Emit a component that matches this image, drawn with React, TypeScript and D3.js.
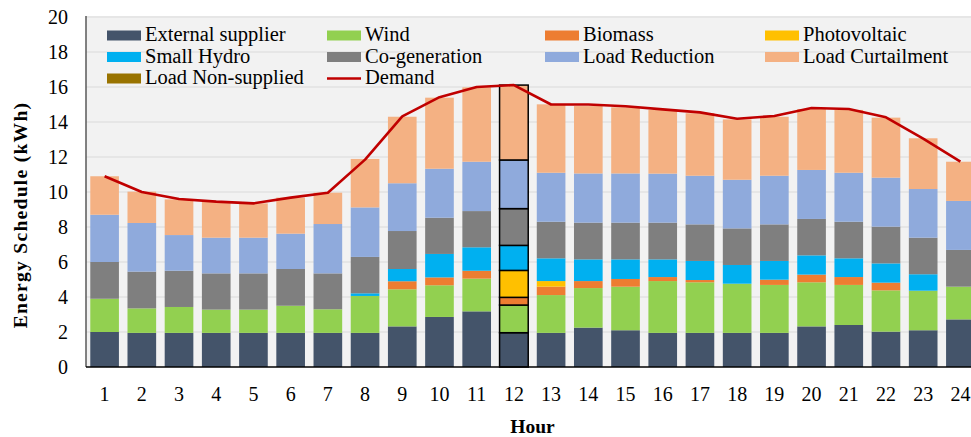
import React from "react";
import * as d3 from "d3";

const hours = ["1","2","3","4","5","6","7","8","9","10","11","12","13","14","15","16","17","18","19","20","21","22","23","24"];
const externalSupplier = [2.0,1.95,1.95,1.95,1.95,1.95,1.95,1.95,2.32,2.86,3.18,1.96,1.95,2.25,2.1,1.95,1.95,1.95,1.95,2.32,2.4,2.02,2.1,2.72];
const wind = [1.9,1.4,1.48,1.33,1.33,1.55,1.35,2.11,2.12,1.81,1.87,1.58,2.16,2.26,2.49,2.96,2.89,2.81,2.74,2.52,2.29,2.36,2.26,1.87];
const biomass = [0,0,0,0,0,0,0,0,0.46,0.45,0.45,0.44,0.48,0.4,0.44,0.23,0.13,0,0.3,0.44,0.45,0.44,0,0];
const photovoltaic = [0,0,0,0,0,0,0,0,0,0,0,1.54,0.32,0,0,0,0,0,0,0,0,0,0,0];
const smallHydro = [0,0,0,0,0,0,0,0.15,0.7,1.34,1.34,1.43,1.3,1.24,1.12,1.01,1.09,1.07,1.07,1.1,1.07,1.1,0.94,0];
const coGeneration = [2.1,2.1,2.07,2.07,2.07,2.1,2.05,2.08,2.17,2.07,2.07,2.1,2.09,2.1,2.1,2.1,2.09,2.09,2.09,2.08,2.09,2.1,2.09,2.1];
const loadReduction = [2.7,2.78,2.04,2.04,2.04,2.02,2.82,2.83,2.73,2.8,2.82,2.78,2.8,2.81,2.81,2.8,2.78,2.78,2.78,2.8,2.8,2.8,2.78,2.8];
const loadCurtailment = [2.2,1.79,2.04,2.06,1.96,2.06,1.79,2.77,3.8,4.06,4.25,4.28,3.91,3.85,3.78,3.64,3.57,3.45,3.37,3.48,3.59,3.43,2.9,2.24];
const loadNonSupplied = [0,0,0,0,0,0,0,0,0,0,0,0,0,0,0,0,0,0,0,0,0,0,0,0];
const demand = [10.9,10.0,9.6,9.45,9.35,9.68,9.96,11.85,14.32,15.42,16.0,16.11,15.0,15.0,14.9,14.72,14.55,14.19,14.34,14.8,14.74,14.27,13.05,11.73];
const yTicks = [0,2,4,6,8,10,12,14,16,18,20];
const highlightedHour = "12";

const seriesKeys = ["ext","wind","bio","pv","sh","cogen","lr","lc","lns"];
const seriesLabels = ["External supplier","Wind","Biomass","Photovoltaic","Small Hydro","Co-generation","Load Reduction","Load Curtailment","Load Non-supplied"];
const seriesColors = ["#44546a","#92d050","#ed7d31","#ffc000","#00b0f0","#7f7f7f","#8faadc","#f4b183","#997300"];
const seriesValues = [externalSupplier, wind, biomass, photovoltaic, smallHydro, coGeneration, loadReduction, loadCurtailment, loadNonSupplied];

const FONT = "'Liberation Serif', 'Times New Roman', serif";

export default function App() {
  const W = 971, H = 437;
  const left = 86, right = 979, top = 17, bottom = 367;
  const x = d3.scaleBand<string>().domain(hours).range([left, right]).padding(0);
  const y = d3.scaleLinear().domain([0, 20]).range([bottom, top]);
  const rows = hours.map((h, i) => {
    const r: any = { hour: h };
    seriesKeys.forEach((k, j) => (r[k] = seriesValues[j][i]));
    return r;
  });
  const stacked = d3.stack<any>().keys(seriesKeys)(rows);
  const barW = x.bandwidth() * 0.77;
  const cx = (h: string) => (x(h) as number) + x.bandwidth() / 2;
  const line = d3.line<number>().x((_, i) => cx(hours[i])).y((d) => y(d));

  const legendCols = [107, 327, 545, 765];
  const legendRows = [41, 62.5, 84];
  const legendItems: { label: string; color: string; type: string }[] = [
    ...seriesLabels.map((l, i) => ({ label: l, color: seriesColors[i], type: "rect" })),
    { label: "Demand", color: "#c00000", type: "line" },
  ];

  return (
    <div style={{ position: "absolute", left: 0, top: 0 }}>
      <svg width={W} height={H} style={{ display: "block", background: "#fff" }}>
        <rect x={left} y={top - 1} width={right - left} height={bottom - top + 1} fill="#f2f2f2" />
        {yTicks.filter((t) => t > 0).map((t) => (
          <line key={t} x1={left} x2={right} y1={y(t)} y2={y(t)} stroke="#d9d9d9" strokeWidth={1.2} />
        ))}
        {stacked.map((s, si) => (
          <g key={s.key} fill={seriesColors[si]}>
            {s.map((d, i) => {
              const h = hours[i];
              const hl = h === highlightedHour;
              const hgt = y(d[0]) - y(d[1]);
              if (hgt <= 0) return null;
              return (
                <rect key={h} x={cx(h) - barW / 2} y={y(d[1])} width={barW} height={hgt}
                  stroke={hl ? "#000" : "none"} strokeWidth={hl ? 1.5 : 0} />
              );
            })}
          </g>
        ))}
        <path d={line(demand) || ""} fill="none" stroke="#c00000" strokeWidth={2.6} strokeLinejoin="round" />
        <line x1={left} x2={left} y1={top - 1} y2={bottom} stroke="#595959" strokeWidth={1.5} />
        <line x1={left} x2={right} y1={bottom} y2={bottom} stroke="#000" strokeWidth={1.5} />
        {yTicks.map((t) => (
          <text key={t} x={68} y={y(t) + 6.8} textAnchor="end" fontFamily={FONT} fontSize={20} fill="#000">{t}</text>
        ))}
        {hours.map((h) => (
          <text key={h} x={cx(h)} y={400.5} textAnchor="middle" fontFamily={FONT} fontSize={20} fill="#000">{h}</text>
        ))}
        <text x={(left + right) / 2} y={432.5} textAnchor="middle" fontFamily={FONT} fontSize={19.5} fontWeight="bold" fill="#000">Hour</text>
        <text transform={`translate(26.5,215) rotate(-90)`} textAnchor="middle" fontFamily={FONT} fontSize={19.5} fontWeight="bold" letterSpacing={1.3} fill="#000">Energy Schedule (kWh)</text>
        {legendItems.map((it, i) => {
          const col = i % 4, row = Math.floor(i / 4);
          const lx = legendCols[col], ly = legendRows[row];
          return (
            <g key={it.label}>
              {it.type === "rect" ? (
                <rect x={lx} y={ly - 10.5} width={34} height={10} fill={it.color} />
              ) : (
                <line x1={lx} x2={lx + 34} y1={ly - 5.5} y2={ly - 5.5} stroke={it.color} strokeWidth={2.6} />
              )}
              <text x={lx + 38} y={ly} fontFamily={FONT} fontSize={20.5} fill="#000">{it.label}</text>
            </g>
          );
        })}
      </svg>
    </div>
  );
}
